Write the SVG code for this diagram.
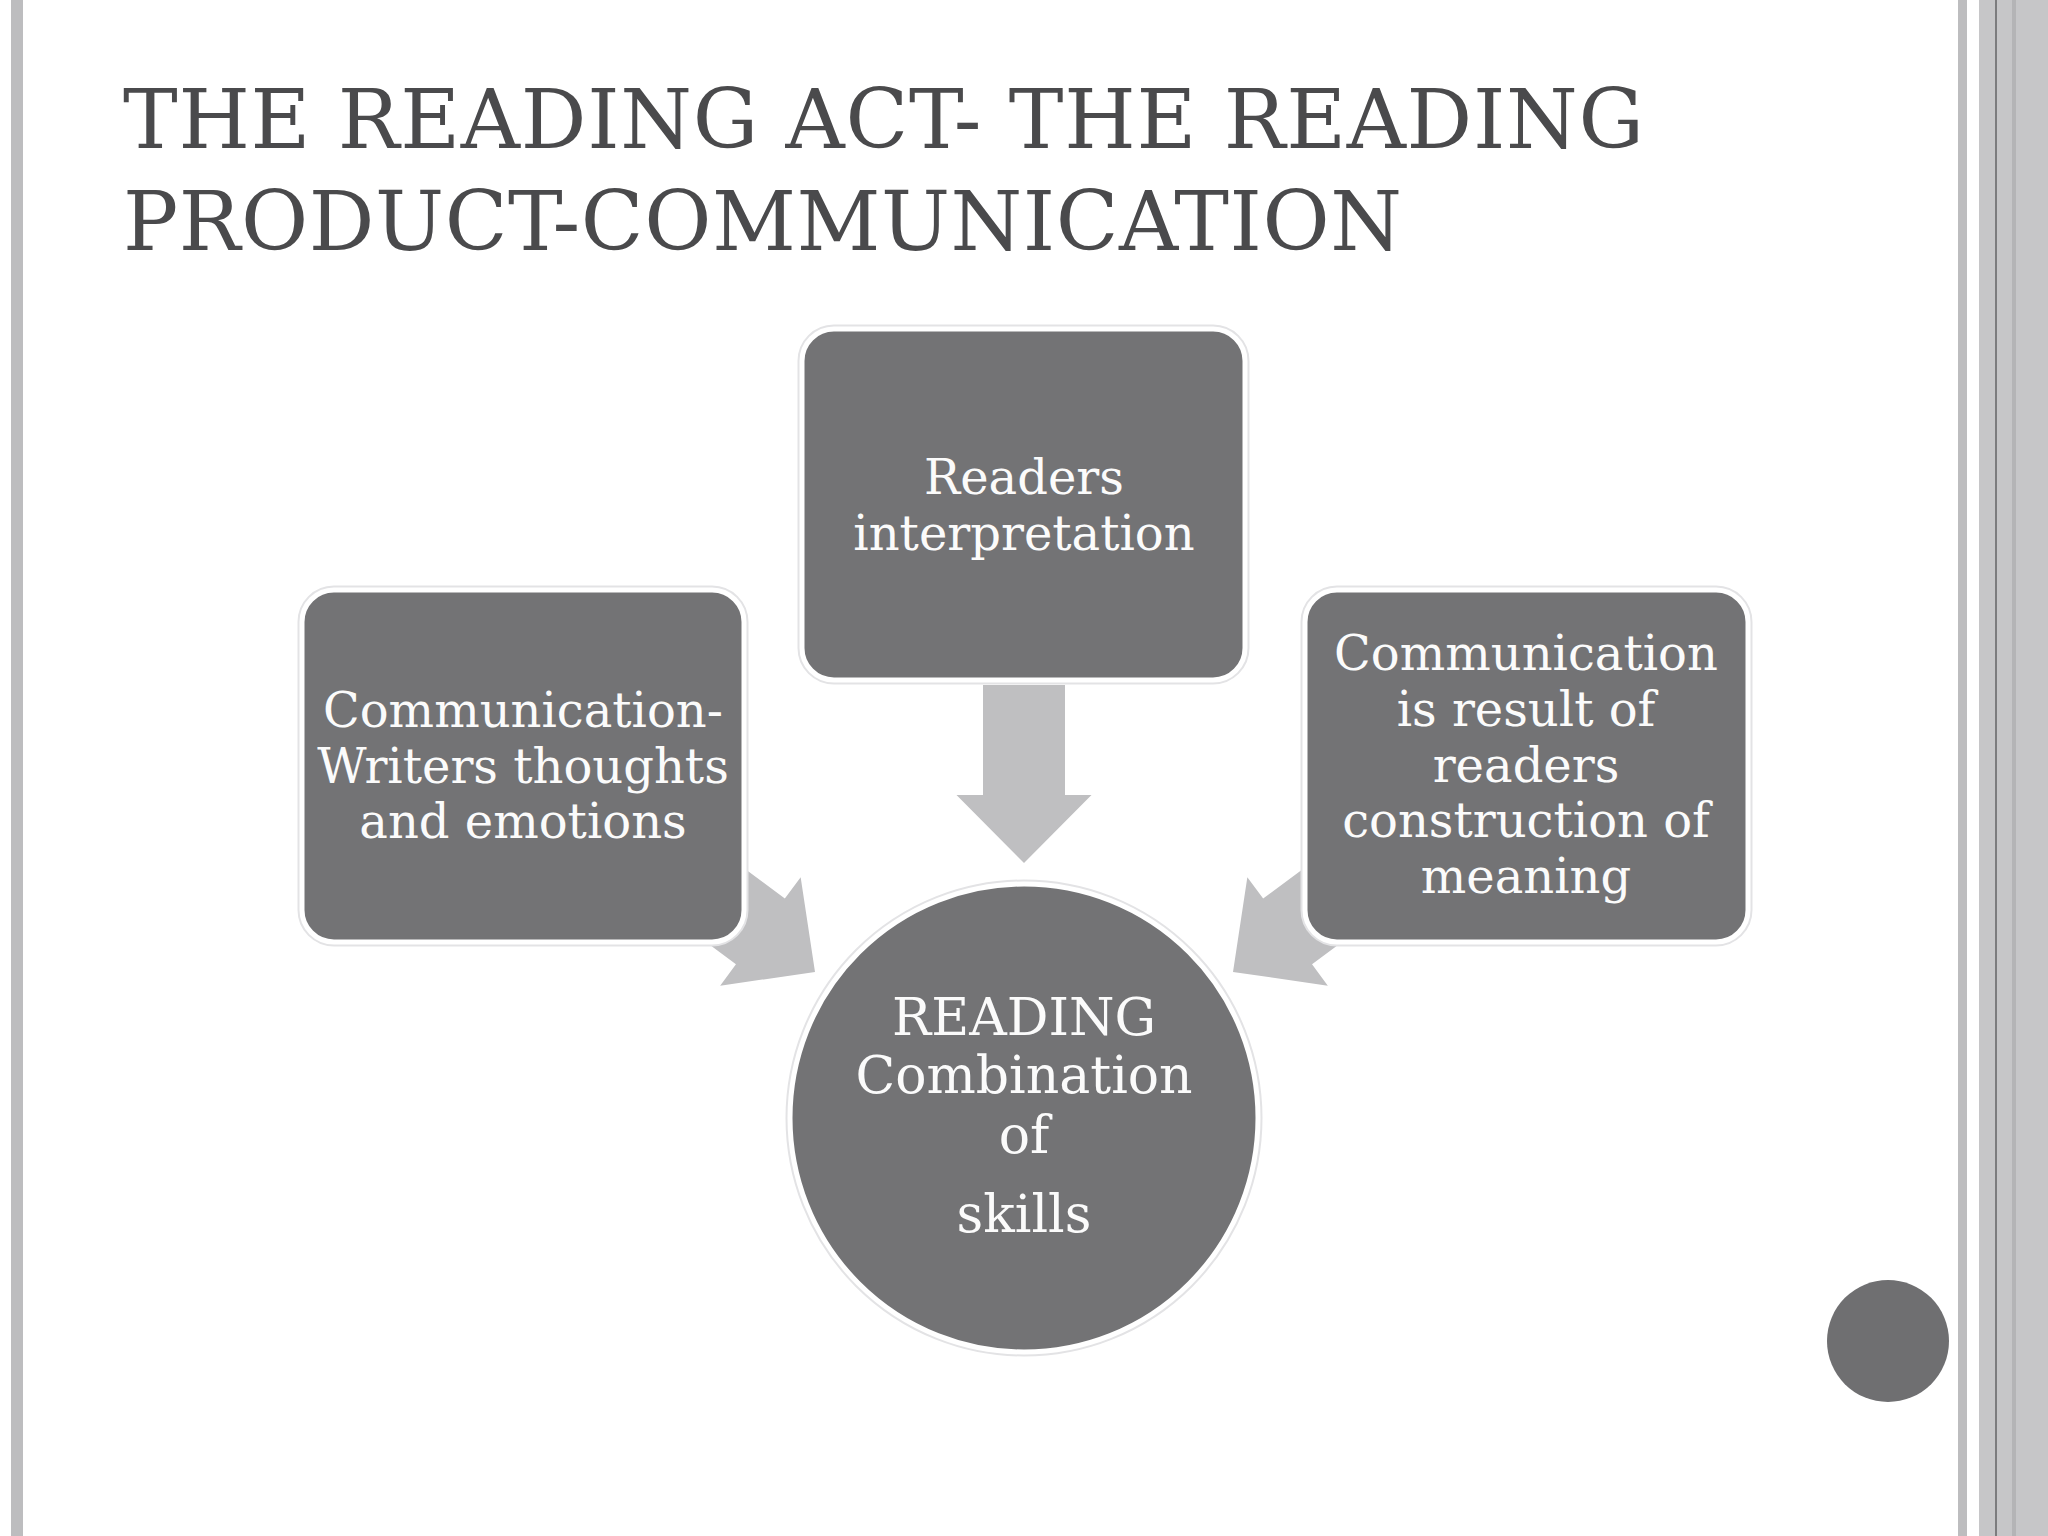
<svg xmlns="http://www.w3.org/2000/svg" width="2048" height="1536" viewBox="0 0 2048 1536">
<style>
.title{font-family:"DejaVu Serif","Liberation Serif",serif;font-size:82px;fill:#4a4a4c}
.lbl{font-family:"DejaVu Serif","Liberation Serif",serif;font-size:48px;fill:#fbfbfb;text-anchor:middle}
.big{font-size:52px}
.halo{fill:none;stroke:#e3e3e5;stroke-width:9}
.box{fill:#737375;stroke:#ffffff;stroke-width:5}
.arrow{fill:#bfbfc1}
</style>
<defs>
<path id="blockArrow" d="M-41,-178 L41,-178 L41,-68 L67.5,-68 L0,0 L-67.5,-68 L-41,-68 Z"/>
</defs>
<rect x="0" y="0" width="2048" height="1536" fill="#ffffff"/>
<g id="frame">
<rect x="11" y="0" width="12" height="1536" fill="#bdbdbf"/>
<rect x="1958" y="0" width="9" height="1536" fill="#bdbdbf"/>
<rect x="1979" y="0" width="69" height="1536" fill="#c6c6c8"/>
<rect x="1995" y="0" width="2" height="1536" fill="#7c7c7e"/>
<rect x="2012" y="0" width="4" height="1536" fill="#b4b4b6"/>
<circle cx="1888" cy="1341" r="61" fill="#6f6f71"/>
</g>
<g id="title">
<text class="title" x="123" y="148" textLength="1521" lengthAdjust="spacing">THE READING ACT- THE READING</text>
<text class="title" x="123" y="250" textLength="1279" lengthAdjust="spacing">PRODUCT-COMMUNICATION</text>
</g>
<g id="connectors" class="arrow">
<use href="#blockArrow" transform="translate(1024,863)"/>
<use href="#blockArrow" transform="translate(815,972) rotate(-53.4)"/>
<use href="#blockArrow" transform="translate(1233,972) rotate(53.4)"/>
</g>
<g id="node-readers-interpretation">
<rect class="halo" x="802" y="329" width="443" height="351" rx="32"/>
<rect class="box" x="802" y="329" width="443" height="351" rx="32"/>
<text class="lbl" x="1024" y="494">Readers</text>
<text class="lbl" x="1024" y="550">interpretation</text>
</g>
<g id="node-writers-thoughts">
<rect class="halo" x="302" y="590" width="442" height="352" rx="32"/>
<rect class="box" x="302" y="590" width="442" height="352" rx="32"/>
<text class="lbl" x="523" y="727">Communication-</text>
<text class="lbl" x="523" y="783">Writers thoughts</text>
<text class="lbl" x="523" y="838">and emotions</text>
</g>
<g id="node-construction-of-meaning">
<rect class="halo" x="1305" y="590" width="443" height="352" rx="32"/>
<rect class="box" x="1305" y="590" width="443" height="352" rx="32"/>
<text class="lbl" x="1526" y="670">Communication</text>
<text class="lbl" x="1526" y="726">is result of</text>
<text class="lbl" x="1526" y="782">readers</text>
<text class="lbl" x="1526" y="837">construction of</text>
<text class="lbl" x="1526" y="893">meaning</text>
</g>
<g id="node-reading">
<circle class="halo" cx="1024" cy="1118" r="234"/>
<circle class="box" cx="1024" cy="1118" r="234"/>
<text class="lbl big" x="1024" y="1035">READING</text>
<text class="lbl big" x="1024" y="1093">Combination</text>
<text class="lbl big" x="1024" y="1153">of</text>
<text class="lbl big" x="1024" y="1232">skills</text>
</g>
</svg>
